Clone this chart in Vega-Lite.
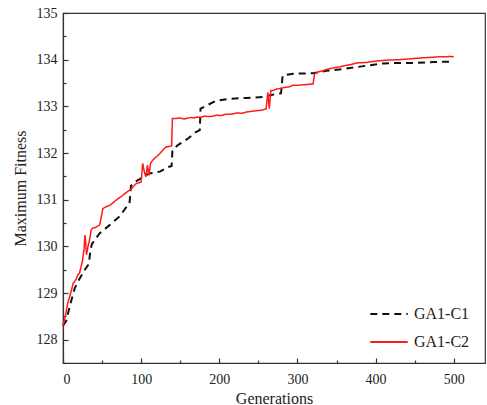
{
  "$schema": "https://vega.github.io/schema/vega-lite/v6.json",
  "width": 422,
  "height": 350,
  "autosize": {"type": "none"},
  "padding": {"left": 63, "top": 13, "right": 2, "bottom": 42},
  "background": "white",
  "config": {
    "font": "Liberation Serif",
    "style": {"guide-label": {"font": "Liberation Serif"}, "guide-title": {"font": "Liberation Serif"}},
    "view": {"stroke": "#333", "strokeWidth": 1.2},
    "axis": {"grid": false, "labelFont": "Liberation Serif", "titleFont": "Liberation Serif", "labelColor": "#222", "titleColor": "#222", "domainColor": "#333", "tickColor": "#333", "domainWidth": 1.2, "tickWidth": 1.2}
  },
  "datasets": {
    "c1": [
      {"gen": 0, "v": 128.3}, {"gen": 4, "v": 128.4}, {"gen": 10, "v": 128.8}, {"gen": 15, "v": 129.1},
      {"gen": 21, "v": 129.3}, {"gen": 28, "v": 129.5}, {"gen": 33, "v": 129.62}, {"gen": 35, "v": 129.9},
      {"gen": 37, "v": 130.05}, {"gen": 47, "v": 130.28}, {"gen": 60, "v": 130.46}, {"gen": 73, "v": 130.65},
      {"gen": 80, "v": 130.82}, {"gen": 85, "v": 130.9}, {"gen": 87, "v": 131.3}, {"gen": 92, "v": 131.38},
      {"gen": 110, "v": 131.56}, {"gen": 124, "v": 131.6}, {"gen": 135, "v": 131.7}, {"gen": 139, "v": 131.72},
      {"gen": 140, "v": 132.06}, {"gen": 147, "v": 132.17}, {"gen": 160, "v": 132.31}, {"gen": 170, "v": 132.45},
      {"gen": 175, "v": 132.49}, {"gen": 176, "v": 132.95}, {"gen": 184, "v": 133.02}, {"gen": 196, "v": 133.12},
      {"gen": 213, "v": 133.16}, {"gen": 235, "v": 133.18}, {"gen": 256, "v": 133.2}, {"gen": 268, "v": 133.25},
      {"gen": 279, "v": 133.28}, {"gen": 281, "v": 133.66}, {"gen": 295, "v": 133.7}, {"gen": 320, "v": 133.71},
      {"gen": 337, "v": 133.76}, {"gen": 359, "v": 133.8}, {"gen": 388, "v": 133.87}, {"gen": 410, "v": 133.92},
      {"gen": 431, "v": 133.93}, {"gen": 452, "v": 133.93}, {"gen": 474, "v": 133.95}, {"gen": 500, "v": 133.96}
    ],
    "c2": [
      {"gen": 0, "v": 128.3}, {"gen": 3, "v": 128.5}, {"gen": 6, "v": 128.78}, {"gen": 9, "v": 128.95},
      {"gen": 11, "v": 129.07}, {"gen": 13, "v": 129.21}, {"gen": 15, "v": 129.25}, {"gen": 17, "v": 129.3},
      {"gen": 19, "v": 129.39}, {"gen": 21, "v": 129.42}, {"gen": 23, "v": 129.55}, {"gen": 25, "v": 129.7},
      {"gen": 27, "v": 129.95}, {"gen": 28, "v": 130.24}, {"gen": 29, "v": 130.1}, {"gen": 30, "v": 129.82},
      {"gen": 31, "v": 129.9}, {"gen": 32, "v": 130.0}, {"gen": 34, "v": 130.14}, {"gen": 36, "v": 130.35},
      {"gen": 38, "v": 130.39}, {"gen": 41, "v": 130.4}, {"gen": 43, "v": 130.42}, {"gen": 45, "v": 130.44},
      {"gen": 47, "v": 130.46}, {"gen": 49, "v": 130.63}, {"gen": 51, "v": 130.81}, {"gen": 54, "v": 130.84},
      {"gen": 57, "v": 130.86}, {"gen": 60, "v": 130.88}, {"gen": 63, "v": 130.92}, {"gen": 66, "v": 130.96},
      {"gen": 68, "v": 130.99}, {"gen": 71, "v": 131.03}, {"gen": 74, "v": 131.06}, {"gen": 77, "v": 131.1},
      {"gen": 80, "v": 131.14}, {"gen": 83, "v": 131.18}, {"gen": 85, "v": 131.2}, {"gen": 88, "v": 131.24},
      {"gen": 91, "v": 131.3}, {"gen": 94, "v": 131.35}, {"gen": 97, "v": 131.36}, {"gen": 100, "v": 131.38},
      {"gen": 102, "v": 131.78}, {"gen": 104, "v": 131.6}, {"gen": 106, "v": 131.49}, {"gen": 108, "v": 131.74},
      {"gen": 110, "v": 131.52}, {"gen": 112, "v": 131.78}, {"gen": 115, "v": 131.85}, {"gen": 118, "v": 131.9},
      {"gen": 121, "v": 131.94}, {"gen": 124, "v": 131.99}, {"gen": 127, "v": 132.05}, {"gen": 130, "v": 132.1},
      {"gen": 132, "v": 132.13}, {"gen": 136, "v": 132.14}, {"gen": 139, "v": 132.15}, {"gen": 140, "v": 132.74},
      {"gen": 145, "v": 132.74}, {"gen": 150, "v": 132.75}, {"gen": 155, "v": 132.73}, {"gen": 158, "v": 132.74},
      {"gen": 163, "v": 132.76}, {"gen": 168, "v": 132.75}, {"gen": 171, "v": 132.77}, {"gen": 176, "v": 132.76},
      {"gen": 181, "v": 132.79}, {"gen": 186, "v": 132.78}, {"gen": 192, "v": 132.79}, {"gen": 197, "v": 132.81},
      {"gen": 202, "v": 132.8}, {"gen": 208, "v": 132.83}, {"gen": 213, "v": 132.83}, {"gen": 218, "v": 132.84},
      {"gen": 223, "v": 132.86}, {"gen": 228, "v": 132.85}, {"gen": 235, "v": 132.88}, {"gen": 240, "v": 132.89},
      {"gen": 245, "v": 132.9}, {"gen": 250, "v": 132.91}, {"gen": 255, "v": 132.92}, {"gen": 260, "v": 132.95},
      {"gen": 262, "v": 133.3}, {"gen": 264, "v": 132.95}, {"gen": 266, "v": 133.34}, {"gen": 269, "v": 133.34},
      {"gen": 273, "v": 133.37}, {"gen": 277, "v": 133.38}, {"gen": 282, "v": 133.4}, {"gen": 286, "v": 133.41},
      {"gen": 290, "v": 133.42}, {"gen": 294, "v": 133.45}, {"gen": 300, "v": 133.45}, {"gen": 307, "v": 133.46},
      {"gen": 313, "v": 133.47}, {"gen": 320, "v": 133.48}, {"gen": 322, "v": 133.7}, {"gen": 327, "v": 133.74},
      {"gen": 332, "v": 133.76}, {"gen": 337, "v": 133.79}, {"gen": 345, "v": 133.82}, {"gen": 355, "v": 133.85},
      {"gen": 363, "v": 133.88}, {"gen": 370, "v": 133.9}, {"gen": 376, "v": 133.93}, {"gen": 388, "v": 133.94},
      {"gen": 401, "v": 133.97}, {"gen": 415, "v": 133.99}, {"gen": 431, "v": 134.0}, {"gen": 445, "v": 134.02},
      {"gen": 461, "v": 134.04}, {"gen": 470, "v": 134.05}, {"gen": 480, "v": 134.06}, {"gen": 490, "v": 134.06},
      {"gen": 495, "v": 134.07}, {"gen": 500, "v": 134.06}
    ]
  },
  "resolve": {"axis": {"x": "independent", "y": "independent"}},
  "layer": [
    {
      "data": {"name": "c1"},
      "transform": [{"calculate": "'GA1-C1'", "as": "series"}],
      "mark": {"type": "line", "strokeWidth": 2, "interpolate": "linear"},
      "encoding": {
        "x": {"field": "gen", "type": "quantitative", "scale": {"domain": [0, 540], "nice": false},
          "axis": {"orient": "bottom", "values": [0, 100, 200, 300, 400, 500], "tickSize": -5, "labelPadding": 14, "labelFont": "Liberation Serif", "labelFontSize": 14, "title": "Generations", "titleFont": "Liberation Serif", "titleFontSize": 16, "titleFontWeight": "normal", "titlePadding": 4}},
        "y": {"field": "v", "type": "quantitative", "scale": {"domain": [127.5, 135], "nice": false, "zero": false},
          "axis": {"orient": "left", "values": [128, 129, 130, 131, 132, 133, 134, 135], "tickSize": -5, "labelPadding": 11, "labelFont": "Liberation Serif", "labelFontSize": 14, "title": "Maximum Fitness", "titleFont": "Liberation Serif", "titleFontSize": 16, "titleFontWeight": "normal", "titlePadding": 8}},
        "color": {"field": "series", "type": "nominal", "scale": {"domain": ["GA1-C1", "GA1-C2"], "range": ["#111111", "#ff1a1a"]},
          "legend": {"title": null, "orient": "none", "legendX": 306, "legendY": 281, "symbolType": "stroke", "symbolSize": 1400, "symbolStrokeWidth": 2, "labelFont": "Liberation Serif", "labelFontSize": 16, "labelColor": "#222", "rowPadding": -19, "labelOffset": 5}},
        "strokeDash": {"field": "series", "type": "nominal", "scale": {"domain": ["GA1-C1", "GA1-C2"], "range": [[7, 5], [1, 0]]}}
      }
    },
    {
      "data": {"name": "c2"},
      "transform": [{"calculate": "'GA1-C2'", "as": "series"}],
      "mark": {"type": "line", "strokeWidth": 1.5, "interpolate": "linear"},
      "encoding": {
        "x": {"field": "gen", "type": "quantitative",
          "axis": {"orient": "bottom", "values": [50, 150, 250, 350, 450], "tickSize": -3, "labels": false, "domain": false, "title": null}},
        "y": {"field": "v", "type": "quantitative",
          "axis": {"orient": "left", "values": [127.5, 128.5, 129.5, 130.5, 131.5, 132.5, 133.5, 134.5], "tickSize": -3, "labels": false, "domain": false, "title": null}},
        "color": {"field": "series", "type": "nominal"},
        "strokeDash": {"field": "series", "type": "nominal"}
      }
    }
  ]
}
